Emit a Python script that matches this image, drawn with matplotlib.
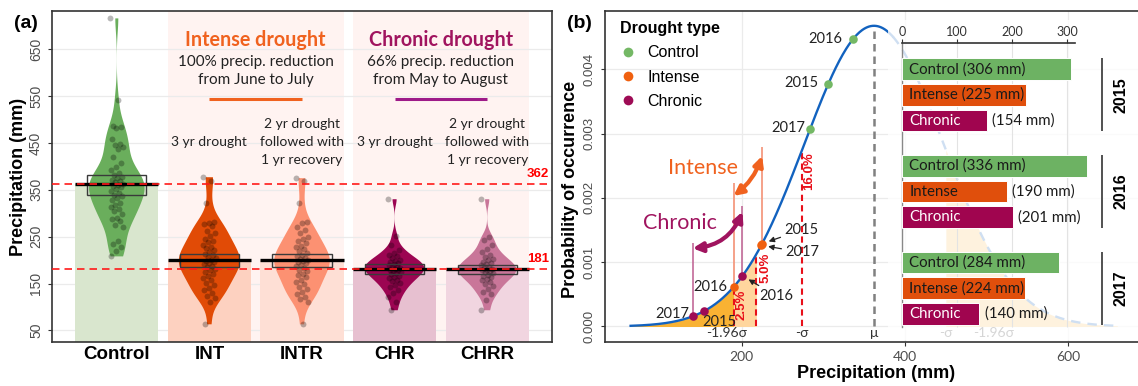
import numpy as np
import matplotlib
matplotlib.use("Agg")
import matplotlib.pyplot as plt
from matplotlib.patches import Rectangle, FancyArrowPatch
from matplotlib.lines import Line2D

# ---------------- data: panel (a) ----------------
groups = ["Control", "INT", "INTR", "CHR", "CHRR"]
control_obs = [716, 541, 486, 484, 482, 459, 448, 445, 441, 437, 421, 408, 399, 392, 387,
               382, 378, 375, 372, 369, 366, 363, 361, 359, 356, 352, 348, 344, 340, 336,
               333, 328, 323, 318, 314, 309, 304, 298, 291, 287, 284, 276, 271, 240, 234,
               227, 220, 208]
int_obs = [377, 368, 321, 281, 280, 278, 272, 262, 258, 252, 246, 241, 238, 233, 229, 226,
           222, 218, 214, 210, 207, 204, 201, 199, 197, 194, 191, 188, 185, 182, 178, 174,
           170, 166, 161, 157, 152, 146, 141, 136, 130, 124, 120, 111, 63]
intr_obs = [375, 368, 321, 281, 279, 270, 264, 257, 250, 246, 240, 236, 231, 228, 224, 219,
            216, 212, 208, 205, 202, 200, 198, 196, 193, 190, 187, 183, 180, 176, 171, 168,
            163, 158, 153, 148, 143, 139, 133, 127, 121, 117, 110, 63]
chr_obs = [330, 252, 232, 222, 216, 212, 208, 204, 201, 198, 196, 194, 192, 190, 188, 186,
           184, 182, 180, 178, 176, 174, 172, 170, 167, 164, 161, 158, 155, 151, 147, 142,
           136, 130, 122, 110, 93]
chrr_obs = [330, 250, 244, 232, 224, 218, 212, 207, 203, 200, 197, 194, 191, 189, 186, 184,
            182, 180, 178, 176, 174, 172, 169, 166, 163, 160, 157, 153, 149, 144, 138, 131,
            127, 114, 93]
group_mean = [362, 200, 200, 181, 181]
ci_low = [340, 186, 186, 170, 170]
ci_high = [381, 214, 214, 191, 190]
ref_values = [362, 181]
yticks_a = [50, 150, 250, 350, 450, 550, 650]

# ---------------- data: panel (b) ----------------
years = ["2015", "2016", "2017"]
control_mm = [306, 336, 284]
intense_mm = [225, 190, 224]
chronic_mm = [154, 201, 140]
mu_mm, sd_mm = 362, 85.3
curve_range = [64, 660]
quantile_mm = [190, 218, 274]
quantile_lab = ["2.5%", "5.0%", "16.0%"]
xticks_b = [200, 400, 600]
yticks_b = [0.000, 0.001, 0.002, 0.003, 0.004]
inset_ticks = [0, 100, 200, 300]

# ---------------- styles ----------------
W, H = 1138, 386
SANS = ["Liberation Sans", "DejaVu Sans"]
HUM = ["Lato", "DejaVu Sans"]
plt.rcParams["font.family"] = SANS

vio_cols = ["#6AAE5C", "#E14B06", "#FC9172", "#9C0552", "#C97699"]
bar_cols = ["#D9E6CE", "#FDD1C0", "#FEDFD5", "#E7C0D0", "#F1D5E0"]
vio_w = [0.60, 0.66, 0.60, 0.64, 0.63]
band_col = "#FFF3F1"
C_ORANGE = "#F0621F"
C_PURPLE = "#A0145F"
C_BLUE = "#1262BF"
pt_cols = ["#74B865", "#F0600F", "#9E0B55"]
bar_b_cols = ["#6DB263", "#E04F0C", "#A0054F"]

fig = plt.figure(figsize=(W / 100, H / 100), dpi=100)


def fpos(x0, y0, x1, y1):
    return [x0 / W, 1 - y1 / H, (x1 - x0) / W, (y1 - y0) / H]


# =============== panel (a) ===============
axA = fig.add_axes(fpos(52, 11, 552, 342.3))
xa = np.arange(len(groups))
axA.set_xlim(-0.7, 4.7)
axA.set_ylim(24.6, 731.8)
axA.axvspan(0.55, 2.45, color=band_col, lw=0, zorder=0.2)
axA.axvspan(2.55, 4.45, color=band_col, lw=0, zorder=0.2)
axA.set_axisbelow(True)
axA.set_yticks(yticks_a)
axA.grid(axis="y", color="#EBEBEB", lw=0.9)

axA.bar(xa, group_mean, width=0.9, color=bar_cols, lw=0, zorder=1)

obs = [control_obs, int_obs, intr_obs, chr_obs, chrr_obs]


def nrd0(kde):
    d = np.asarray(kde.dataset).ravel()
    sd = d.std(ddof=1)
    q75, q25 = np.percentile(d, [75, 25])
    bw = 0.9 * min(sd, (q75 - q25) / 1.34) * len(d) ** (-0.2)
    return bw / sd


vp = axA.violinplot(obs, positions=xa, widths=vio_w, showextrema=False,
                    bw_method=nrd0, points=300)
for body, c in zip(vp["bodies"], vio_cols):
    body.set_facecolor(c)
    body.set_edgecolor("none")
    body.set_alpha(1)
    body.set_zorder(2)

for i, d in enumerate(obs):
    n = len(d)
    off = ((np.arange(n) * 0.618034) % 1 - 0.5) * 0.14
    axA.scatter(xa[i] + off, d, s=18, color="black", alpha=0.28, lw=0, zorder=3)

for i in range(len(groups)):
    axA.add_patch(Rectangle((xa[i] - 0.32, ci_low[i]), 0.64, ci_high[i] - ci_low[i],
                            fill=False, ec="#3A3A3A", lw=1.0, zorder=4))
axA.hlines(group_mean, xa - 0.45, xa + 0.45, color="black", lw=2.4, zorder=5)

for v in ref_values:
    axA.axhline(v, color="#FF1A1A", lw=1.2, ls=(0, (4.5, 3)), zorder=6)
    axA.text(4.67, v + 21, str(v), color="#FF0000", fontweight="bold", fontsize=9.5,
             ha="right", va="center", zorder=7)

axA.text(1.5, 669, "Intense drought", color=C_ORANGE, fontweight="bold", fontsize=14.2,
         ha="center", va="center", family=HUM)
axA.text(1.5, 624, "100% precip. reduction", fontsize=11, ha="center", va="center",
         family=HUM, color="#222222")
axA.text(1.5, 583.6, "from June to July", fontsize=11, ha="center", va="center",
         family=HUM, color="#222222")
axA.plot([1, 2], [543, 543], color=C_ORANGE, lw=2.2, solid_capstyle="butt", zorder=3)
axA.text(3.5, 669, "Chronic drought", color=C_PURPLE, fontweight="bold", fontsize=14.2,
         ha="center", va="center", family=HUM)
axA.text(3.5, 624, "66% precip. reduction", fontsize=11, ha="center", va="center",
         family=HUM, color="#222222")
axA.text(3.5, 583.6, "from May to August", fontsize=11, ha="center", va="center",
         family=HUM, color="#222222")
axA.plot([3, 4], [543, 543], color="#9E1A88", lw=2.2, solid_capstyle="butt", zorder=3)
for xx in [1, 3]:
    axA.text(xx, 453, "3 yr drought", fontsize=10, ha="center", va="center",
             family=HUM, color="#222222")
for xx in [2, 4]:
    axA.text(xx, 453, "2 yr drought\nfollowed with\n1 yr recovery", fontsize=10,
             ha="center", va="center", family=HUM, color="#222222", linespacing=1.6)

axA.set_xticks(xa, groups)
for t in axA.get_xticklabels():
    t.set_fontweight("bold")
    t.set_fontsize(13.5)
axA.tick_params(axis="x", length=0, pad=3)
axA.tick_params(axis="y", labelrotation=90, labelsize=10, labelcolor="#4D4D4D",
                color="#333333", length=3)
for t in axA.get_yticklabels():
    t.set_va("center")
for s in axA.spines.values():
    s.set_color("#333333")
    s.set_linewidth(1.2)

fig.text(19 / W, 1 - 176.5 / H, "Precipitation (mm)", rotation=90, fontsize=13,
         fontweight="bold", ha="center", va="center")
fig.text(26 / W, 1 - 23 / H, "(a)", fontsize=14, fontweight="bold", ha="center", va="center")

# =============== panel (b) ===============
axB = fig.add_axes(fpos(604.8, 11, 1146, 342.3))
axB.set_xlim(32.4, 695.1)
axB.set_ylim(-0.000246, 0.004907)
axB.set_axisbelow(True)
axB.set_xticks(xticks_b)
axB.set_yticks(yticks_b)
axB.grid(color="#EBEBEB", lw=0.9)


def npdf(v):
    v = np.asarray(v, dtype=float)
    return np.exp(-0.5 * ((v - mu_mm) / sd_mm) ** 2) / (sd_mm * np.sqrt(2 * np.pi))


q = quantile_mm
xs = np.linspace(curve_range[0], q[0], 120)
axB.fill_between(xs, 0, npdf(xs), color="#F9B233", lw=0, zorder=2)
xs = np.linspace(q[0], q[1], 60)
axB.fill_between(xs, 0, npdf(xs), color="#FFD69E", lw=0, zorder=2)
xs = np.linspace(2 * mu_mm - q[2], curve_range[1], 160)
axB.fill_between(xs, 0, npdf(xs), color="#FBC060", lw=0, zorder=2)

axB.vlines(q, 0, npdf(q), color="#E8101A", lw=1.5, ls=(0, (3, 2)), zorder=4)
axB.vlines([mu_mm], 0, npdf(mu_mm), color="#808080", lw=1.8, ls=(0, (3, 2)), zorder=4)

xs = np.linspace(curve_range[0], 385, 300)
axB.plot(xs, npdf(xs), color=C_BLUE, lw=1.7, zorder=5)
xs = np.linspace(385, curve_range[1], 200)
axB.plot(xs, npdf(xs), color=C_BLUE, lw=1.7, ls=(0, (4, 3)), zorder=5)

ylab = -0.000106
for xv, lab in [(q[0] - 8, "-1.96σ"), (q[2], "-σ"), (mu_mm, "μ"),
                (2 * mu_mm - q[2], "-σ"), (2 * mu_mm - q[0] - 26, "-1.96σ")]:
    axB.text(xv, ylab, lab, ha="center", va="center", fontsize=10, color="#333333",
             family=HUM, zorder=6)

for xv, yv, lab in [(200, 0.000334, quantile_lab[0]), (229.4, 0.00092, quantile_lab[1]),
                    (282.3, 0.00241, quantile_lab[2])]:
    axB.text(xv, yv, lab, rotation=90, color="#E8101A", fontweight="bold", fontsize=9.5,
             ha="center", va="center", zorder=6)

# range lines + arrows
int_lo, int_hi = min(intense_mm), max(intense_mm)
chr_lo, chr_hi = min(chronic_mm), max(chronic_mm)
axB.vlines([int_lo], npdf(int_lo), 0.002236, color="#F49A80", lw=1.3, zorder=3)
axB.vlines([int_hi], npdf(int_hi), 0.002787, color="#F49A80", lw=1.3, zorder=3)
axB.vlines([chr_hi], npdf(chr_hi), 0.001874, color="#C26A98", lw=1.2, zorder=3)
axB.vlines([chr_lo], npdf(chr_lo), 0.001303, color="#C26A98", lw=1.2, zorder=3)
axB.add_patch(FancyArrowPatch((int_hi, 0.002652), (int_lo, 0.00203),
                              arrowstyle="<|-|>", mutation_scale=14, lw=3, color=C_ORANGE,
                              connectionstyle="arc3,rad=-0.15", shrinkA=0, shrinkB=0,
                              zorder=6))
axB.add_patch(FancyArrowPatch((chr_hi, 0.001785), (chr_lo, 0.001216),
                              arrowstyle="<|-|>", mutation_scale=14, lw=3, color=C_PURPLE,
                              connectionstyle="arc3,rad=-0.3", shrinkA=0, shrinkB=0,
                              zorder=6))
axB.text(153, 0.00246, "Intense", color=C_ORANGE, fontsize=15.5, ha="center",
         va="center", family=HUM)
axB.text(124.5, 0.001614, "Chronic", color=C_PURPLE, fontsize=15.5, ha="center",
         va="center", family=HUM)

# points on curve
for vals, c in zip([control_mm, intense_mm, chronic_mm], pt_cols):
    axB.scatter(vals, npdf(vals), s=38, color=c, lw=0, zorder=8)

lab_kw = dict(textcoords="offset pixels", fontsize=10.5, family=HUM, color="#222222",
              va="center", zorder=9)
arr = dict(arrowstyle="-|>", color="#222222", lw=0.9, shrinkA=1, shrinkB=5,
           mutation_scale=8)
ctrl_off = {"2015": (-10, 1), "2016": (-10, 0), "2017": (-5, 1)}
for yr, v in zip(years, control_mm):
    axB.annotate(yr, (v, npdf(v)), xytext=ctrl_off[yr], ha="right", **lab_kw)
int_off = {"2015": (22.5, 13.7), "2016": (-6, 0), "2017": (24.3, -7.2)}
for yr, v in zip(years, intense_mm):
    if yr == "2016":
        axB.annotate(yr, (v, npdf(v)), xytext=int_off[yr], ha="right", **lab_kw)
    else:
        axB.annotate(yr, (v, npdf(v)), xytext=int_off[yr], ha="left", arrowprops=arr,
                     **lab_kw)
chr_off = {"2015": (-2, -10.7), "2016": (16.8, -20.2), "2017": (-3, 2)}
for yr, v in zip(years, chronic_mm):
    if yr == "2016":
        axB.annotate(yr, (v, npdf(v)), xytext=chr_off[yr], ha="left", arrowprops=arr,
                     **lab_kw)
    elif yr == "2015":
        axB.annotate(yr, (v, npdf(v)), xytext=chr_off[yr], ha="left", **lab_kw)
    else:
        axB.annotate(yr, (v, npdf(v)), xytext=chr_off[yr], ha="right", **lab_kw)

handles = [Line2D([], [], ls="none", marker="o", ms=7, mfc=c, mec="none") for c in pt_cols]
axB.legend(handles, ["Control", "Intense", "Chronic"], title="Drought type",
           loc="upper left", bbox_to_anchor=(620 / W, 1 - 21 / H),
           bbox_transform=fig.transFigure, frameon=False, fontsize=11.5,
           title_fontproperties={"weight": "bold", "size": 11.5}, alignment="left",
           handlelength=1.0, handletextpad=0.7, labelspacing=0.58, borderpad=0,
           borderaxespad=0)

axB.yaxis.set_major_formatter(matplotlib.ticker.FormatStrFormatter("%.3f"))
axB.tick_params(axis="y", labelrotation=90, labelsize=9.5, labelcolor="#4D4D4D",
                color="#333333", length=3)
for t in axB.get_yticklabels():
    t.set_va("center")
axB.tick_params(axis="x", labelsize=10, labelcolor="#4D4D4D", color="#333333", length=3)
for t in axB.get_xticklabels():
    t.set_family(HUM)
axB.spines["right"].set_visible(False)
for s in ["left", "top", "bottom"]:
    axB.spines[s].set_color("#333333")
    axB.spines[s].set_linewidth(1.2)

fig.text(875.6 / W, 1 - 373.3 / H, "Precipitation (mm)", fontsize=13, fontweight="bold",
         ha="center", va="center")
fig.text(570.5 / W, 1 - 189 / H, "Probability of occurrence", rotation=90, fontsize=13,
         fontweight="bold", ha="center", va="center")
fig.text(579 / W, 1 - 23 / H, "(b)", fontsize=14, fontweight="bold", ha="center",
         va="center")

# =============== inset bar chart ===============
axI = fig.add_axes(fpos(888, 20, 1146, 340))
axI.set_facecolor((1, 1, 1, 0.8))
axI.set_xlim(-25.4, 442.6)
axI.set_ylim(10.537, -1.914)
axis_p = -1.008
bottom_p = 10.03
group_step = 3.76
bar_h = 0.845

names = ["Control", "Intense", "Chronic"]
for g, yr in enumerate(years):
    vals = [control_mm[g], intense_mm[g], chronic_mm[g]]
    pos = [g * group_step + j for j in range(3)]
    axI.barh(pos, vals, height=bar_h, color=bar_b_cols, edgecolor="white", lw=0.7,
             zorder=3)
    for j in range(3):
        tc = "white" if names[j] == "Chronic" else "#1A1A1A"
        if vals[j] >= 220:
            axI.text(13, pos[j], f"{names[j]} ({vals[j]} mm)", color=tc, fontsize=10.8,
                     family=HUM, ha="left", va="center", zorder=4)
        else:
            axI.text(13, pos[j], names[j], color=tc, fontsize=10.8, family=HUM,
                     ha="left", va="center", zorder=4)
            axI.text(vals[j] + 10, pos[j], f"({vals[j]} mm)", color="#1A1A1A",
                     fontsize=10.8, family=HUM, ha="left", va="center", zorder=4)
    axI.vlines(363.5, pos[0] - bar_h / 2, pos[2] + bar_h / 2, color="#333333", lw=1.2)
    axI.text(398, pos[1], yr, rotation=90, fontweight="bold", fontsize=11.5,
             ha="center", va="center")

axI.vlines(inset_ticks[1:], axis_p, bottom_p, color="#E3E3E3", lw=0.8, zorder=1)
axI.xaxis.tick_top()
axI.set_xticks(inset_ticks)
axI.set_yticks([])
axI.spines["top"].set_position(("data", axis_p))
axI.spines["top"].set_bounds(0, 314)
axI.spines["top"].set_color("#333333")
axI.spines["top"].set_linewidth(1.2)
axI.spines["left"].set_position(("data", 0))
axI.spines["left"].set_bounds(axis_p, bottom_p)
axI.spines["left"].set_color("#888888")
axI.spines["left"].set_linewidth(1.0)
axI.spines["right"].set_visible(False)
axI.spines["bottom"].set_visible(False)
axI.tick_params(axis="x", top=True, bottom=False, labeltop=True, labelbottom=False,
                length=3, pad=1, labelsize=9, labelcolor="#333333", color="#333333")
for t in axI.get_xticklabels():
    t.set_family(HUM)

fig.savefig("out.png", dpi=100)
